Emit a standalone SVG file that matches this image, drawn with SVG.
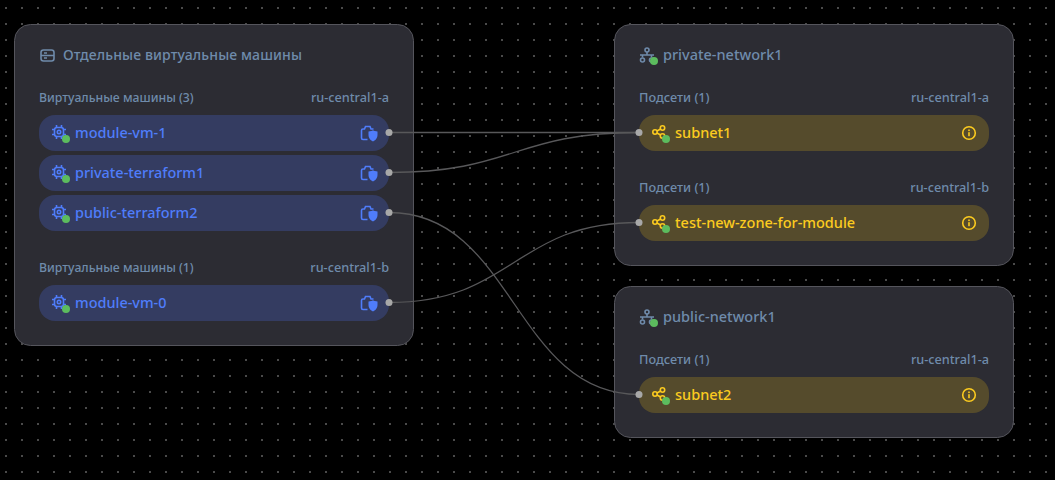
<svg xmlns="http://www.w3.org/2000/svg" width="1055" height="480" viewBox="0 0 1055 480">
<style>
text{font-family:"Noto Sans","Liberation Sans",sans-serif}
.card{fill:#2c2c33;stroke:#55555c;stroke-width:1}
.title{font-size:14px;letter-spacing:.11px;fill:#6f8bab;font-weight:500}
.lat{font-size:14.500px;letter-spacing:0}
.sub{font-size:12.250px;fill:#6f8bab;font-weight:500}
.sh{font-size:12.700px}
.end{text-anchor:end;font-size:12.700px}
.vm{fill:#343c61}
.sn{fill:#554b2c}
.vmt{font-size:14.450px;font-weight:500;fill:#4f7dfb}
.snt{font-size:14.500px;font-weight:500;fill:#fccb1f}
.ic{fill:none;stroke-width:1.600}
.b{stroke:#4f7dfb}.y{stroke:#fccb1f}.g{stroke:#6f8bab}
.st{fill:#5cbc5e}
.wire{fill:none;stroke:#58585a;stroke-width:1.300}
.port{fill:#a8a8a8}
</style>
<defs>
<pattern id="dots" width="16" height="16" patternUnits="userSpaceOnUse"><rect x="5" y="7" width="2" height="2" fill="#4a4a4a"/></pattern>
<g id="cpu"><rect x="-4.500" y="-4.500" width="9" height="9" rx="2.500" class="ic b"/><circle r="1.700" class="ic b"/><path d="M-2.500-7v2M2.500-7v2M-2.500 5v2M2.500 5v2M-7-2.500h2M-7 2.500h2M5-2.500h2M5 2.500h2" class="ic b"/><circle cx="7" cy="7" r="4" class="st"/></g>
<g id="shield"><path d="M-.5 6.500H-5a1.500 1.500 0 0 1-1.500-1.500V-2.500a1.500 1.500 0 0 1 1.500-1.500h1.500l1-2.500h4.500l1 2.500h2.500" class="ic b"/><path d="M.5-1.500c2 0 3.500-.5 4.500-1.200 1 .7 2.500 1.200 4.500 1.200v3.500c0 3.500-2.500 5.500-4.500 6.500-2-1-4.500-3-4.500-6.500z" fill="#4f7dfb"/></g>
<g id="share"><circle cx="-4" cy="0" r="2.200" class="ic y"/><circle cx="3.500" cy="-4" r="2.200" class="ic y"/><circle cx="3.500" cy="4" r="2.200" class="ic y"/><path d="M-2-1 1.600-3M-2 1 1.600 3" class="ic y"/><circle cx="7" cy="7" r="4" class="st"/></g>
<g id="info"><circle r="6.300" class="ic y"/><rect x="-.8" y="-.8" width="1.600" height="4" fill="#fccb1f"/><rect x="-.8" y="-3.500" width="1.600" height="1.600" fill="#fccb1f"/></g>
<g id="net"><circle cx="0" cy="-5" r="2" class="ic g"/><path d="M0-3V0M-7 0H7M-4.500 0V2.500M4.500 0V2.500" class="ic g"/><circle cx="-4.500" cy="5" r="2" class="ic g"/><circle cx="4.500" cy="5" r="2" class="ic g"/><circle cx="7" cy="6" r="4" class="st"/></g>
</defs>
<rect width="1055" height="480" fill="#000"/>
<rect width="1055" height="480" fill="url(#dots)"/>

<g id="vms">
<rect class="card" x="14.500" y="24.500" width="399" height="321" rx="16"/>
<rect x="41" y="50" width="13" height="11" rx="2.500" class="ic g"/><path d="M41 55.500h13M44 53h3M44 58h3" class="ic g"/>
<text class="title" x="63" y="60">Отдельные виртуальные машины</text>
<text class="sub" x="39" y="102">Виртуальные машины (3)</text>
<text class="sub end" x="389" y="102">ru-central1-a</text>
<text class="sub" x="39" y="272">Виртуальные машины (1)</text>
<text class="sub end" x="389" y="272">ru-central1-b</text>
</g>
<g id="module-vm-1"><rect class="vm" x="39" y="115" width="350" height="36" rx="16"/><use href="#cpu" x="59" y="132"/><text class="vmt" x="75" y="138">module-vm-1</text><use href="#shield" x="368" y="133"/></g>
<g id="private-terraform1"><rect class="vm" x="39" y="155" width="350" height="36" rx="16"/><use href="#cpu" x="59" y="172"/><text class="vmt" x="75" y="178">private-terraform1</text><use href="#shield" x="368" y="173"/></g>
<g id="public-terraform2"><rect class="vm" x="39" y="195" width="350" height="36" rx="16"/><use href="#cpu" x="59" y="212"/><text class="vmt" x="75" y="218">public-terraform2</text><use href="#shield" x="368" y="213"/></g>
<g id="module-vm-0"><rect class="vm" x="39" y="285" width="350" height="36" rx="16"/><use href="#cpu" x="59" y="302"/><text class="vmt" x="75" y="308">module-vm-0</text><use href="#shield" x="368" y="303"/></g>

<g id="private-network1">
<rect class="card" x="614.500" y="24.500" width="399" height="241" rx="16"/>
<use href="#net" x="647" y="55"/>
<text class="title lat" x="663" y="60">private-network1</text>
<text class="sub sh" x="639" y="102">Подсети (1)</text>
<text class="sub end" x="989" y="102">ru-central1-a</text>
<text class="sub sh" x="639" y="192">Подсети (1)</text>
<text class="sub end" x="989" y="192">ru-central1-b</text>
</g>
<g id="subnet1"><rect class="sn" x="639" y="115" width="350" height="36" rx="16"/><use href="#share" x="659" y="132"/><text class="snt" x="675" y="138">subnet1</text><use href="#info" x="969" y="133"/></g>
<g id="test-new-zone-for-module"><rect class="sn" x="639" y="205" width="350" height="36" rx="16"/><use href="#share" x="659" y="222"/><text class="snt" x="675" y="228">test-new-zone-for-module</text><use href="#info" x="969" y="223"/></g>

<g id="public-network1">
<rect class="card" x="614.500" y="286.500" width="399" height="151" rx="16"/>
<use href="#net" x="647" y="317"/>
<text class="title lat" x="663" y="322">public-network1</text>
<text class="sub sh" x="639" y="364">Подсети (1)</text>
<text class="sub end" x="989" y="364">ru-central1-a</text>
</g>
<g id="subnet2"><rect class="sn" x="639" y="377" width="350" height="36" rx="16"/><use href="#share" x="659" y="394"/><text class="snt" x="675" y="400">subnet2</text><use href="#info" x="969" y="395"/></g>

<g id="connectors">
<path class="wire" d="M389 132.500H639"/>
<path class="wire" d="M389 172.500C514 172.500 514 132.500 639 132.500"/>
<path class="wire" d="M389 212.500C514 212.500 514 394.500 639 394.500"/>
<path class="wire" d="M389 302.500C514 302.500 514 222.500 639 222.500"/>
<circle class="port" cx="389" cy="132.500" r="3.500"/><circle class="port" cx="389" cy="172.500" r="3.500"/><circle class="port" cx="389" cy="212.500" r="3.500"/><circle class="port" cx="389" cy="302.500" r="3.500"/>
<circle class="port" cx="639" cy="132.500" r="3.500"/><circle class="port" cx="639" cy="222.500" r="3.500"/><circle class="port" cx="639" cy="394.500" r="3.500"/>
</g>
</svg>
